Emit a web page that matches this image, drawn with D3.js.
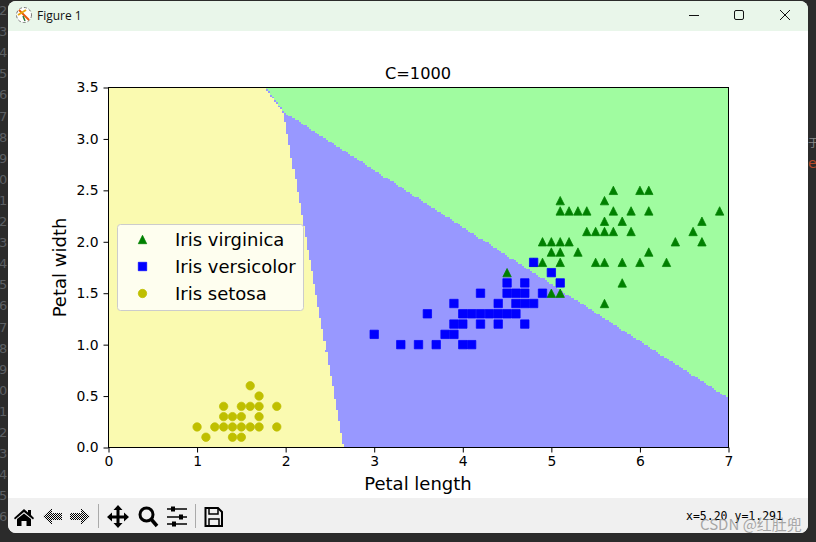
<!DOCTYPE html>
<meta charset="utf-8">
<style>
    body{margin:0;background:#2b2b2b;overflow:hidden}
    svg{display:block}
    text{font-family:"DejaVu Sans"}
</style>
<svg id="chart" width="816" height="542"></svg>
<script src="https://d3js.org/d3.v7.min.js"></script>
<script>

var xTicks = [0, 1, 2, 3, 4, 5, 6, 7]
var yTicks = [0, 0.5, 1, 1.5, 2, 2.5, 3, 3.5]

var chartTitle = 'C=1000'
var xLabel = 'Petal length'
var yLabel = 'Petal width'
var legendLabels = ['Iris virginica', 'Iris versicolor', 'Iris setosa']
var statusText = 'x=5.20 y=1.291'
var watermark = 'CSDN @红肚兜'

// [petal length, petal width]
var virginica = [[6.0,2.5],[5.1,1.9],[5.9,2.1],[5.6,1.8],[5.8,2.2],[6.6,2.1],[4.5,1.7],[6.3,1.8],[5.8,1.8],[6.1,2.5],
    [5.1,2.0],[5.3,1.9],[5.5,2.1],[5.0,2.0],[5.1,2.4],[5.3,2.3],[5.5,1.8],[6.7,2.2],[6.9,2.3],[5.0,1.5],
    [5.7,2.3],[4.9,2.0],[6.7,2.0],[4.9,1.8],[5.7,2.1],[6.0,1.8],[4.8,1.8],[5.6,2.1],[5.8,1.6],[6.1,1.9],
    [6.4,2.0],[5.6,2.2],[5.1,1.5],[5.6,1.4],[6.1,2.3],[5.6,2.4],[5.4,2.1],[5.1,2.3],[5.9,2.3],[5.7,2.5],
    [5.2,2.3],[5.0,1.9],[5.2,2.0],[5.4,2.3],[5.1,1.8]]
var versicolor = [[4.7,1.4],[4.5,1.5],[4.9,1.5],[4.0,1.3],[4.6,1.5],[4.5,1.3],[4.7,1.6],[3.3,1.0],[4.6,1.3],[3.9,1.4],
    [3.5,1.0],[4.2,1.5],[4.0,1.0],[3.6,1.3],[4.4,1.4],[4.1,1.0],[3.9,1.1],[4.8,1.8],[4.7,1.2],[4.3,1.3],
    [4.8,1.4],[5.0,1.7],[3.8,1.1],[3.7,1.0],[3.9,1.2],[5.1,1.6],[4.5,1.6],[4.7,1.5],[4.4,1.3],[4.1,1.3],
    [4.4,1.2],[4.6,1.4],[4.0,1.2],[4.2,1.3],[4.2,1.2],[3.0,1.1]]
var setosa = [[1.6,0.6],[1.7,0.5],[1.3,0.4],[1.5,0.4],[1.6,0.4],[1.7,0.4],[1.9,0.4],[1.3,0.3],[1.4,0.3],[1.5,0.3],
    [1.7,0.3],[1.0,0.2],[1.2,0.2],[1.3,0.2],[1.4,0.2],[1.5,0.2],[1.6,0.2],[1.7,0.2],[1.9,0.2],[1.1,0.1],
    [1.4,0.1],[1.5,0.1]]

// outlines of the predicted regions, anything left over is versicolor
var setosaRegion = [[0,0],[2.655,0],[1.975,3.255],[1.76,3.5],[0,3.5]]
var virginicaRegion = [[1.77,3.5],[1.985,3.26],[7,0.48],[7,3.5]]
var meshCols = 300
var meshRows = 200

var regionColors = ['#fafab0', '#9898ff', '#a0fca0']
var pointColors = ['#008000', '#0000ff', '#bfbf00']

var svg = d3.select('#chart')

var x = d3.scaleLinear().domain([0, 7]).range([108.5, 728.5])
var y = d3.scaleLinear().domain([0, 3.5]).range([447.5, 87.5])

function drawWindow(){
    var defs = svg.append('defs')
    defs.append('clipPath').attr('id', 'win')
        .append('rect').attr('x', 8).attr('y', 1).attr('width', 800).attr('height', 532).attr('rx', 8)
    var pat = defs.append('pattern').attr('id', 'dither').attr('width', 2).attr('height', 2)
        .attr('patternUnits', 'userSpaceOnUse')
    pat.append('rect').attr('width', 1).attr('height', 1).attr('fill', '#000')
    pat.append('rect').attr('x', 1).attr('y', 1).attr('width', 1).attr('height', 1).attr('fill', '#000')

    // what shows behind the window
    var behind = svg.append('g').attr('fill', '#5c5f63').style('font-size', '13px')
    d3.range(0, 25).forEach(function(i){
        behind.append('text').attr('x', -1).attr('y', 15 + i * 21.1).text((i + 2) % 10)
    })
    behind.append('text').attr('x', 808).attr('y', 147).attr('fill', '#8a8a8a')
        .style('font-family', 'Noto Sans CJK SC').style('font-size', '11px').text('于')
    behind.append('text').attr('x', 808).attr('y', 168).attr('fill', '#b5492a').style('font-size', '14px').text('e')

    var win = svg.append('g').attr('clip-path', 'url(#win)')
    win.append('rect').attr('x', 8).attr('y', 1).attr('width', 800).attr('height', 532).attr('fill', '#fff')
    win.append('rect').attr('x', 8).attr('y', 1).attr('width', 800).attr('height', 30).attr('fill', '#e9f6ea')
    win.append('rect').attr('x', 8).attr('y', 498).attr('width', 800).attr('height', 36).attr('fill', '#f0f0f0')

    svg.append('text').attr('x', 37).attr('y', 19.5)
        .style('font-family', 'Open Sans').style('font-size', '12px').attr('fill', '#111').text('Figure 1')

    // app icon
    var icon = svg.append('g').attr('transform', 'translate(24,15)')
    icon.append('circle').attr('r', 7.5).attr('fill', '#fff').attr('stroke', '#777').attr('stroke-dasharray', '3 2')
    icon.append('path').attr('d', 'M-5,-5L5,5').attr('stroke', '#e8590c').attr('stroke-width', 2)
    icon.append('path').attr('d', 'M-6,0L2,-5').attr('stroke', '#e8a60c').attr('stroke-width', 2)
    icon.append('path').attr('d', 'M-1,1L1,6').attr('stroke', '#2a7a3a').attr('stroke-width', 1.5)

    // window buttons
    var btn = svg.append('g').attr('fill', 'none').attr('stroke', '#111')
    btn.append('path').attr('d', 'M689,15.5H699')
    btn.append('rect').attr('x', 734.5).attr('y', 10.5).attr('width', 9).attr('height', 9).attr('rx', 1.5)
    btn.append('path').attr('d', 'M780,10L790,20M790,10L780,20')

    // toolbar icons
    var tb = svg.append('g').attr('fill', '#000')
    tb.append('path').attr('d', 'M14,518L24,509L28,512.5V510H31V515L34,518L33,519.5L24,512L15,519.5Z')
    tb.append('path').attr('d', 'M17,519L24,513.5L31,519V526H26.5V521H21.5V526H17Z')
    tb.append('path').attr('fill', 'url(#dither)').attr('d', 'M43,516.5L52,508V513H62V520H52V525Z')
    tb.append('path').attr('fill', 'url(#dither)').attr('d', 'M90,516.5L81,508V513H70V520H81V525Z')
    tb.append('path').attr('fill', 'none').attr('stroke', '#000').attr('stroke-width', 3)
        .attr('d', 'M118,508V526M109,517H127')
    tb.append('path').attr('d', 'M118,505L122.5,510H113.5ZM118,528L122.5,523H113.5ZM107,517L112,512.5V521.5ZM129,517L124,512.5V521.5Z')
    tb.append('circle').attr('cx', 146.5).attr('cy', 514.5).attr('r', 6.5)
        .attr('fill', 'none').attr('stroke', '#000').attr('stroke-width', 3)
    tb.append('path').attr('d', 'M151,519L157,526').attr('stroke', '#000').attr('stroke-width', 3.5)
    var sliders = tb.append('g').attr('stroke', '#000').attr('stroke-width', 1.5)
    sliders.append('path').attr('d', 'M167,509H187M167,517H187M167,524H187')
    sliders.append('path').attr('stroke-width', 4).attr('d', 'M173,506.5V511.5M181,514.5V519.5M174,521.5V526.5')
    tb.append('path').attr('fill', 'none').attr('stroke', '#000').attr('stroke-width', 2)
        .attr('d', 'M205.5,508H218L222,512V526H205.5Z')
    tb.append('path').attr('fill', 'none').attr('stroke', '#000').attr('stroke-width', 1.5)
        .attr('d', 'M209,508V514H218V508M209,526V519H219V526')
    var sep = svg.append('g').attr('stroke', '#aaa')
    sep.append('path').attr('d', 'M98.5,504V528')
    sep.append('path').attr('d', 'M195.5,504V528')

    svg.append('text').attr('x', 686).attr('y', 520)
        .style('font-family', 'DejaVu Sans Mono').style('font-size', '11.5px').attr('fill', '#000').text(statusText)
    svg.append('text').attr('x', 700).attr('y', 530)
        .style('font-family', 'Noto Sans CJK SC').style('font-size', '15px').attr('fill', '#8c8c8c').attr('fill-opacity', 0.75)
        .text(watermark)
}

// the regions were painted from a prediction mesh, hence the stair steps
function drawRegions(){
    var cols = d3.range(meshCols), rows = d3.range(meshRows)
    var paths = [d3.path(), d3.path(), d3.path()]
    var dx = 7 / meshCols, dy = 3.5 / meshRows

    function classify(a, b){
        if(d3.polygonContains(setosaRegion, [a, b])) return 0
        if(d3.polygonContains(virginicaRegion, [a, b])) return 2
        return 1
    }

    rows.forEach(function(j){
        var b = (j + 0.5) * dy
        var top = y(b + dy / 2), bottom = y(b - dy / 2)
        var start = 0, current = classify(dx / 2, b)
        cols.forEach(function(i){
            var c = classify((i + 0.5) * dx, b)
            if(c !== current){
                paths[current].rect(x(start * dx), top, x(i * dx) - x(start * dx), bottom - top)
                start = i
                current = c
            }
        })
        paths[current].rect(x(start * dx), top, x(7) - x(start * dx), bottom - top)
    })

    svg.append('g').attr('shape-rendering', 'crispEdges').selectAll('path')
        .data(paths)
        .enter().append('path')
        .attr('fill', function(d, i){ return regionColors[i] })
        .attr('d', function(d){ return d.toString() })
}

function triangle(r){ return 'M0,' + (-r) + 'L' + r + ',' + r + 'L' + (-r) + ',' + r + 'Z' }
function square(r){ return 'M' + (-r) + ',' + (-r) + 'H' + r + 'V' + r + 'H' + (-r) + 'Z' }
function circle(r){ return 'M' + (-r) + ',0A' + r + ',' + r + ' 0 1 1 ' + r + ',0A' + r + ',' + r + ' 0 1 1 ' + (-r) + ',0Z' }

var markers = [triangle(4.2), square(4.2), circle(4.2)]

function drawPoints(data, i){
    svg.append('g').selectAll('path')
        .data(data)
        .enter().append('path')
        .attr('d', markers[i])
        .attr('fill', pointColors[i])
        .attr('stroke', pointColors[i])
        .attr('stroke-width', 1)
        .attr('stroke-opacity', 0.75)
        .attr('transform', function(d){ return 'translate(' + x(d[0]) + ',' + y(d[1]) + ')' })
}

function drawAxes(){
    var bottom = svg.append('g')
        .attr('transform', 'translate(0,447.5)')
        .call(d3.axisBottom(x).tickValues(xTicks).tickFormat(d3.format('d')).tickSize(5).tickPadding(4))
    var left = svg.append('g')
        .attr('transform', 'translate(108.5,0)')
        .call(d3.axisLeft(y).tickValues(yTicks).tickFormat(d3.format('.1f')).tickSize(5).tickPadding(5))

    ;[bottom, left].forEach(function(a){
        a.select('.domain').remove()
        a.selectAll('line').attr('stroke', '#000')
        a.selectAll('text').attr('fill', '#000').style('font-family', 'DejaVu Sans').style('font-size', '13.9px')
    })

    svg.append('rect')
        .attr('x', x(0)).attr('y', y(3.5))
        .attr('width', x(7) - x(0)).attr('height', y(0) - y(3.5))
        .attr('fill', 'none').attr('stroke', '#000')

    svg.append('text').attr('x', 418).attr('y', 79).attr('text-anchor', 'middle')
        .style('font-size', '16.2px').attr('fill', '#000').text(chartTitle)
    svg.append('text').attr('x', 418).attr('y', 490).attr('text-anchor', 'middle')
        .style('font-size', '18px').attr('fill', '#000').text(xLabel)
    svg.append('text').attr('transform', 'translate(66,267.5) rotate(-90)').attr('text-anchor', 'middle')
        .style('font-size', '18px').attr('fill', '#000').text(yLabel)
}

function drawLegend(){
    svg.append('rect').attr('x', 117.5).attr('y', 224.5).attr('width', 186).attr('height', 86).attr('rx', 3)
        .attr('fill', '#fff').attr('fill-opacity', 0.8).attr('stroke', '#ccc')
    var rows = svg.append('g').selectAll('g')
        .data(legendLabels)
        .enter().append('g')
        .attr('transform', function(d, i){ return 'translate(142.5,' + (239.5 + i * 27) + ')' })
    rows.append('path')
        .attr('d', function(d, i){ return markers[i] })
        .attr('fill', function(d, i){ return pointColors[i] })
        .attr('stroke', function(d, i){ return pointColors[i] })
        .attr('stroke-opacity', 0.75)
    rows.append('text').attr('x', 32.5).attr('y', 6)
        .style('font-size', '18px').attr('fill', '#000')
        .text(function(d){ return d })
}

drawWindow()
drawRegions()
;[virginica, versicolor, setosa].forEach(drawPoints)
drawAxes()
drawLegend()

</script>
